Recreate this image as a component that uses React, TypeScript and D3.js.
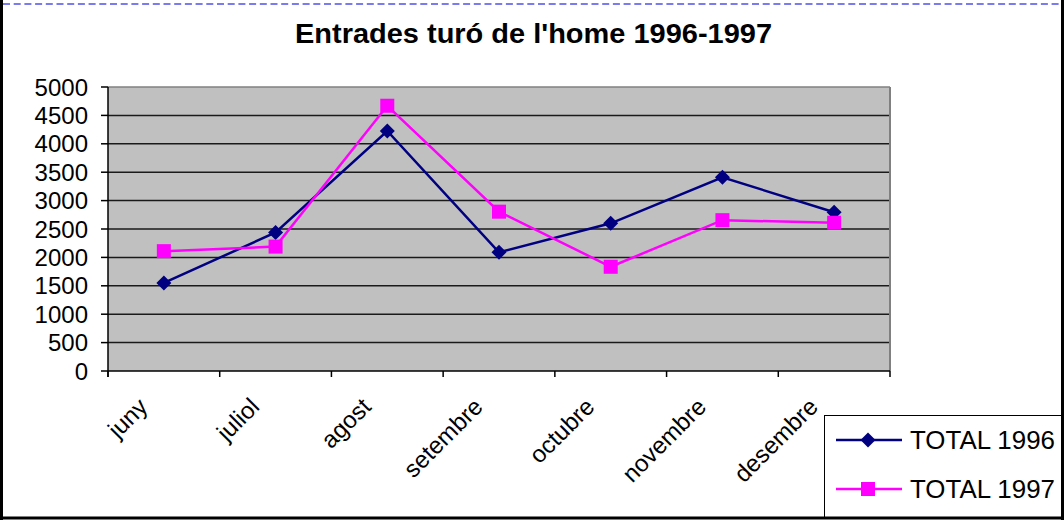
import React from "react";
import * as d3 from "d3";

const months = ["juny", "juliol", "agost", "setembre", "octubre", "novembre", "desembre"];
const total1996 = [1550, 2440, 4225, 2090, 2600, 3410, 2795];
const total1997 = [2110, 2190, 4670, 2805, 1835, 2655, 2610];
const yTicks = [0, 500, 1000, 1500, 2000, 2500, 3000, 3500, 4000, 4500, 5000];
const seriesNames = ["TOTAL 1996", "TOTAL 1997"];

const W = 1064, H = 520;
const PL = 108, PR = 890, PT = 87, PB = 371;
const FONT = "Arial, 'Liberation Sans', sans-serif";

export default function App() {
  const x = d3.scaleBand<string>().domain(months).range([PL, PR]).padding(0);
  const y = d3.scaleLinear().domain([0, 5000]).range([PB, PT]);
  const cx = (m: string) => (x(m) as number) + x.bandwidth() / 2;
  const line = d3.line<number>().x((_, i) => cx(months[i])).y(v => y(v));
  const diamond = (px: number, py: number, r: number) =>
    `M${px},${py - r}L${px + r},${py}L${px},${py + r}L${px - r},${py}Z`;
  const boundaries = d3.range(months.length + 1).map(i => PL + i * x.bandwidth());

  return (
    <svg width={W} height={H} style={{ position: "absolute", left: 0, top: 0, background: "#fff" }} fontFamily={FONT}>
      <rect x={0} y={0} width={W} height={H} fill="#fff" />
      {/* outer frame */}
      <line x1={1.5} y1={0} x2={1.5} y2={H} stroke="#000" strokeWidth={3} />
      <line x1={3} y1={4} x2={W} y2={4} stroke="#7B7BF0" strokeWidth={2} strokeDasharray="7 3.7" />

      {/* title */}
      <text x={533.5} y={43} textAnchor="middle" fontWeight="bold" fontSize={28} textLength={477} lengthAdjust="spacingAndGlyphs">
        Entrades turó de l'home 1996-1997
      </text>

      {/* plot area */}
      <rect x={PL} y={PT} width={PR - PL} height={PB - PT} fill="#C0C0C0" />
      {yTicks.slice(1).map(t => (
        <line key={t} x1={PL} x2={PR} y1={y(t)} y2={y(t)} stroke={t === 5000 ? "#808080" : "#1a1a1a"} strokeWidth={1.5} />
      ))}
      <line x1={PR} x2={PR} y1={PT} y2={PB} stroke="#808080" strokeWidth={2} />

      {/* axes */}
      <line x1={PL} x2={PL} y1={PT} y2={PB + 6} stroke="#000" strokeWidth={1.5} />
      <line x1={PL} x2={PR} y1={PB} y2={PB} stroke="#000" strokeWidth={1.5} />
      {yTicks.map(t => (
        <g key={t}>
          <line x1={PL - 7} x2={PL} y1={y(t)} y2={y(t)} stroke="#000" strokeWidth={1.5} />
          <text x={88} y={y(t)} dy="0.36em" textAnchor="end" fontSize={24}>{t}</text>
        </g>
      ))}
      {boundaries.map((b, i) => (
        <line key={i} x1={b} x2={b} y1={PB} y2={PB + 6} stroke="#000" strokeWidth={1.5} />
      ))}
      {months.map(m => (
        <text key={m} transform={`translate(${cx(m) - 27},${396}) rotate(-45)`} textAnchor="end" dy="0.72em" fontSize={24}>
          {m}
        </text>
      ))}

      {/* series */}
      <path d={line(total1996) ?? ""} fill="none" stroke="#000080" strokeWidth={2.5} />
      <path d={line(total1997) ?? ""} fill="none" stroke="#FF00FF" strokeWidth={2.5} />
      {total1996.map((v, i) => (
        <path key={i} d={diamond(cx(months[i]), y(v), 7.5)} fill="#000080" />
      ))}
      {total1997.map((v, i) => (
        <rect key={i} x={cx(months[i]) - 7} y={y(v) - 7} width={14} height={14} fill="#FF00FF" />
      ))}

      {/* legend */}
      <rect x={824.5} y={415.5} width={240} height={102} fill="#fff" stroke="#000" strokeWidth={1} />
      <line x1={836} x2={902} y1={440} y2={440} stroke="#000080" strokeWidth={2.5} />
      <path d={diamond(868, 440, 7.5)} fill="#000080" />
      <text x={910} y={440} dy="0.36em" fontSize={25} textLength={145} lengthAdjust="spacingAndGlyphs">{seriesNames[0]}</text>
      <line x1={836} x2={902} y1={489} y2={489} stroke="#FF00FF" strokeWidth={2.5} />
      <rect x={861} y={482} width={14} height={14} fill="#FF00FF" />
      <text x={910} y={489} dy="0.36em" fontSize={25} textLength={145} lengthAdjust="spacingAndGlyphs">{seriesNames[1]}</text>
      <line x1={1062.5} y1={0} x2={1062.5} y2={H} stroke="#000" strokeWidth={3} />
      <line x1={0} y1={518} x2={W} y2={518} stroke="#000" strokeWidth={3} />
    </svg>
  );
}
